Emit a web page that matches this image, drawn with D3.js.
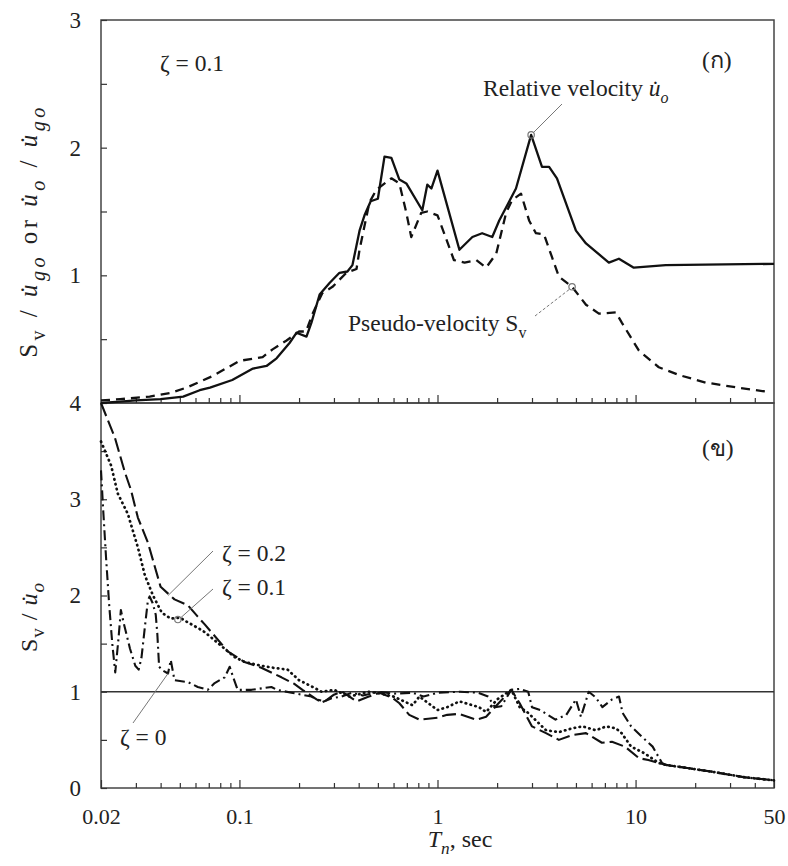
<!DOCTYPE html>
<html>
<head>
<meta charset="utf-8">
<script src="https://cdn.jsdelivr.net/npm/d3@7"></script>
<style>
  body { margin: 0; background: #fff; }
  svg text { font-family: "Liberation Serif", "Times New Roman", Tinos, "DejaVu Serif", serif; fill: #222; }
</style>
</head>
<body>
<div id="chart"></div>
<script>
// ---- data ----
// top panel (zeta = 0.1): relative velocity (solid) and pseudo-velocity (dashed)
var relT = [0.02, 0.025, 0.03, 0.04, 0.052, 0.063, 0.071, 0.092, 0.117, 0.137, 0.154, 0.179, 0.194, 0.218, 0.231, 0.254, 0.285, 0.32, 0.351, 0.372, 0.404, 0.428, 0.46, 0.5, 0.54, 0.585, 0.642, 0.696, 0.838, 0.888, 0.931, 1.0, 1.29, 1.5, 1.68, 1.89, 2.05, 2.49, 2.97, 3.37, 3.66, 4.01, 5.0, 5.62, 7.33, 8.24, 9.8, 14.2, 50];
var relV = [0.0, 0.01, 0.02, 0.03, 0.05, 0.1, 0.12, 0.18, 0.27, 0.29, 0.35, 0.47, 0.55, 0.52, 0.63, 0.85, 0.94, 1.02, 1.03, 1.08, 1.35, 1.47, 1.58, 1.6, 1.93, 1.92, 1.75, 1.72, 1.51, 1.71, 1.68, 1.82, 1.20, 1.30, 1.33, 1.30, 1.43, 1.68, 2.10, 1.85, 1.85, 1.76, 1.35, 1.25, 1.10, 1.13, 1.06, 1.08, 1.09];

var pseT = [0.02, 0.025, 0.0352, 0.045, 0.054, 0.073, 0.1, 0.131, 0.147, 0.173, 0.2, 0.217, 0.234, 0.262, 0.295, 0.347, 0.39, 0.404, 0.453, 0.491, 0.585, 0.642, 0.696, 0.737, 0.828, 0.888, 1.0, 1.11, 1.21, 1.37, 1.57, 1.76, 1.98, 2.22, 2.38, 2.64, 2.9, 3.14, 3.45, 3.79, 4.1, 4.78, 5.62, 6.53, 7.96, 8.52, 10.4, 13.1, 16.5, 22.6, 33.1, 45.3];
var pseV = [0.02, 0.03, 0.05, 0.08, 0.12, 0.21, 0.33, 0.36, 0.42, 0.49, 0.56, 0.56, 0.70, 0.86, 0.91, 1.02, 1.05, 1.20, 1.57, 1.67, 1.76, 1.72, 1.49, 1.30, 1.49, 1.50, 1.47, 1.28, 1.12, 1.10, 1.12, 1.06, 1.17, 1.49, 1.59, 1.64, 1.43, 1.33, 1.32, 1.14, 0.99, 0.91, 0.77, 0.70, 0.71, 0.63, 0.41, 0.28, 0.22, 0.16, 0.12, 0.09];

// bottom panel: Sv / u_o for zeta = 0, 0.1, 0.2
var z0T = [0.02, 0.0205, 0.0212, 0.022, 0.0228, 0.0236, 0.0245, 0.0252, 0.026, 0.028, 0.0298, 0.031, 0.032, 0.0333, 0.0345, 0.0352, 0.0365, 0.0378, 0.0385, 0.0393, 0.041, 0.0436, 0.045, 0.047, 0.055, 0.0616, 0.0692, 0.075, 0.0843, 0.0893, 0.093, 0.098, 0.115, 0.145, 0.155, 0.183, 0.231, 0.26, 0.29, 0.327, 0.37, 0.42, 0.5, 0.6, 0.75, 0.85, 1.0, 1.3, 1.6, 1.8, 1.95, 2.1, 2.36, 2.6, 2.87, 3.0, 3.3, 3.94, 4.47, 5.0, 5.3, 5.8, 6.3, 6.8, 7.6, 8.25, 8.6, 9.5, 10.8, 12.2, 13.6, 14.2, 17.9, 24.2, 35.9, 50];
var z0V = [3.3, 2.9, 2.4, 1.9, 1.5, 1.2, 1.55, 1.85, 1.72, 1.45, 1.27, 1.23, 1.35, 1.67, 1.95, 1.99, 1.92, 1.8, 1.6, 1.26, 1.22, 1.19, 1.33, 1.12, 1.1, 1.05, 1.02, 1.09, 1.15, 1.26, 1.15, 1.02, 1.02, 1.05, 1.02, 0.99, 0.95, 0.89, 0.93, 0.95, 0.99, 0.96, 1.0, 0.98, 0.99, 0.95, 0.99, 1.0, 0.99, 0.95, 0.84, 0.85, 1.02, 1.03, 1.0, 0.84, 0.81, 0.71, 0.76, 0.92, 0.74, 1.0, 0.94, 0.84, 0.92, 0.95, 0.78, 0.64, 0.53, 0.43, 0.26, 0.24, 0.21, 0.17, 0.11, 0.08];

var z1T = [0.02, 0.0225, 0.0243, 0.0273, 0.0307, 0.0333, 0.0366, 0.0406, 0.045, 0.05, 0.055, 0.062, 0.0668, 0.0946, 0.106, 0.129, 0.147, 0.175, 0.2, 0.234, 0.26, 0.3, 0.36, 0.45, 0.52, 0.6, 0.748, 0.81, 1.0, 1.12, 1.29, 1.62, 1.76, 2.0, 2.36, 2.6, 2.87, 3.53, 4.1, 4.78, 5.4, 6.3, 7.1, 7.96, 8.5, 9.5, 11.1, 13.1, 14.2, 17.9, 24.2, 35.9, 50];
var z1V = [3.6, 3.35, 3.06, 2.85, 2.5, 2.21, 2.0, 1.82, 1.76, 1.77, 1.72, 1.66, 1.62, 1.36, 1.31, 1.27, 1.25, 1.23, 1.12, 1.05, 1.0, 1.02, 0.95, 1.0, 0.98, 0.95, 0.86, 0.95, 0.81, 0.84, 0.9, 0.84, 0.79, 0.92, 1.02, 0.84, 0.78, 0.6, 0.58, 0.62, 0.64, 0.6, 0.64, 0.62, 0.57, 0.43, 0.36, 0.26, 0.24, 0.21, 0.17, 0.11, 0.08];

var z2T = [0.02, 0.0235, 0.0264, 0.0283, 0.0307, 0.0345, 0.04, 0.047, 0.0548, 0.0616, 0.0668, 0.0873, 0.106, 0.129, 0.163, 0.19, 0.208, 0.245, 0.27, 0.3, 0.33, 0.39, 0.45, 0.509, 0.59, 0.642, 0.72, 0.81, 1.0, 1.12, 1.29, 1.57, 1.76, 1.89, 2.12, 2.36, 2.6, 3.0, 3.53, 4.1, 4.78, 5.62, 6.76, 7.6, 8.83, 10.4, 11.6, 13.1, 14.2, 17.9, 24.2, 35.9, 50];
var z2V = [4.0, 3.64, 3.28, 3.10, 2.81, 2.55, 2.09, 1.96, 1.90, 1.78, 1.70, 1.42, 1.31, 1.25, 1.15, 1.08, 1.02, 0.92, 0.9, 0.97, 1.0, 0.9, 0.95, 0.99, 0.94, 0.88, 0.76, 0.71, 0.73, 0.76, 0.77, 0.71, 0.74, 0.81, 0.92, 1.02, 0.88, 0.64, 0.57, 0.5, 0.55, 0.57, 0.47, 0.48, 0.43, 0.31, 0.29, 0.26, 0.24, 0.21, 0.17, 0.11, 0.08];

// ticks
var xLabelTicks = [0.02, 0.1, 1, 10, 50];
var xMajorTicks = [0.1, 1, 10];
var xMinorTicks = [0.03, 0.04, 0.05, 0.06, 0.07, 0.08, 0.09, 0.2, 0.3, 0.4, 0.5, 0.6, 0.7, 0.8, 0.9, 2, 3, 4, 5, 6, 7, 8, 9, 20, 30, 40];
var yTopTicks = [0.5, 1, 1.5, 2, 2.5, 3];
var yBotTicks = [0, 0.5, 1, 1.5, 2, 2.5, 3, 3.5, 4];

var left = 101, right = 774, topY = 20, midY = 403, botY = 788;
var fs = 22, fsNote = 23.5, fsTitle = 24;
var serif = '"Liberation Serif", "Times New Roman", Tinos, "DejaVu Serif", serif';

var svg = d3.select("#chart").append("svg")
    .attr("width", 788)
    .attr("height", 866)
    .attr("font-family", serif);

var x = d3.scaleLog().domain([0.02, 50]).range([left, right]);
var yTop = d3.scaleLinear().domain([0, 3]).range([midY, topY]);
var yBot = d3.scaleLinear().domain([0, 4]).range([botY, midY]);

function pts(T, V) {
    return T.map(function(t, i) { return {t: t, v: V[i]}; });
}

// text with sub-scripts / italics
function rich(sel, parts, size, subScale) {
    var shift = 0;
    subScale = subScale || 0.68;
    sel.attr("font-family", serif);
    parts.forEach(function(p) {
        var ts = sel.append("tspan").text(p.t);
        var want = p.sub ? size * 0.3 : 0;
        if (want !== shift) { ts.attr("dy", want - shift); shift = want; }
        ts.attr("font-size", p.sub ? size * subScale : size);
        if (p.it) ts.attr("font-style", "italic");
    });
}

// ---- frames ----
svg.append("rect")
    .attr("x", left).attr("y", topY)
    .attr("width", right - left).attr("height", midY - topY)
    .attr("fill", "none").attr("stroke", "#444").attr("stroke-width", 1.5);
svg.append("rect")
    .attr("x", left).attr("y", midY)
    .attr("width", right - left).attr("height", botY - midY)
    .attr("fill", "none").attr("stroke", "#444").attr("stroke-width", 1.5);

// ---- axes ----
function xAxes(yPos, labels) {
    svg.append("g")
        .attr("transform", "translate(0," + yPos + ")")
        .call(d3.axisBottom(x).tickValues(xMinorTicks).tickSize(-5).tickSizeOuter(0).tickFormat(""))
        .call(function(g) { g.select(".domain").remove(); });
    var g = svg.append("g")
        .attr("transform", "translate(0," + yPos + ")")
        .call(d3.axisBottom(x).tickValues(labels ? xLabelTicks : xMajorTicks)
            .tickSize(-8).tickSizeOuter(0).tickPadding(20)
            .tickFormat(labels ? function(d) { return String(d); } : ""));
    g.select(".domain").remove();
    g.selectAll("text").attr("font-size", fs).attr("font-family", serif).attr("fill", "#222");
    svg.selectAll(".tick line").attr("stroke", "#333").attr("stroke-width", 1.2);
}
xAxes(midY, false);
xAxes(botY, true);

function yAxis(scale, vals, skipZero) {
    var g = svg.append("g")
        .attr("transform", "translate(" + left + ",0)")
        .call(d3.axisLeft(scale).tickValues(vals).tickSize(-6).tickSizeOuter(0).tickPadding(20)
            .tickFormat(function(d) {
                if (d % 1 !== 0) return "";
                if (skipZero && d === 0) return "";
                return String(d);
            }));
    g.select(".domain").remove();
    g.selectAll("line").attr("stroke", "#333").attr("stroke-width", 1.2);
    g.selectAll("text").attr("font-size", fs + 1).attr("font-family", serif).attr("fill", "#222");
}
yAxis(yTop, yTopTicks, true);
yAxis(yBot, yBotTicks, false);

// reference line at 1 in the lower panel
svg.append("line")
    .attr("x1", left).attr("x2", right)
    .attr("y1", yBot(1)).attr("y2", yBot(1))
    .attr("stroke", "#333").attr("stroke-width", 1.5);

// ---- curves ----
var lineTop = d3.line().x(function(d) { return x(d.t); }).y(function(d) { return yTop(d.v); });
var lineBot = d3.line().x(function(d) { return x(d.t); }).y(function(d) { return yBot(d.v); });

function curve(data, gen, dash, width, cap) {
    svg.append("path")
        .datum(data)
        .attr("fill", "none")
        .attr("stroke", "#111")
        .attr("stroke-width", width)
        .attr("stroke-linejoin", "round")
        .attr("stroke-linecap", cap || "butt")
        .attr("stroke-dasharray", dash)
        .attr("d", gen);
}

curve(pts(relT, relV), lineTop, null, 2.3);
curve(pts(pseT, pseV), lineTop, "9,6", 2.3);

curve(pts(z2T, z2V), lineBot, "14,5", 2.1);
curve(pts(z1T, z1V), lineBot, "0.5,4.5", 2.7, "round");
curve(pts(z0T, z0V), lineBot, "10,4,2,4", 2.1);

// ---- annotations ----
function leader(x1, y1, x2, y2, dash) {
    svg.append("line")
        .attr("x1", x1).attr("y1", y1).attr("x2", x2).attr("y2", y2)
        .attr("stroke", "#777").attr("stroke-width", 1)
        .attr("stroke-dasharray", dash || null);
}
function marker(cx, cy) {
    svg.append("circle").attr("cx", cx).attr("cy", cy).attr("r", 3.2)
        .attr("fill", "none").attr("stroke", "#777").attr("stroke-width", 1.2);
}
function label(xp, yp, s) {
    svg.append("text").attr("x", xp).attr("y", yp)
        .attr("font-size", fsNote).attr("font-family", serif).text(s);
}

// top panel
label(160, 71, "ζ = 0.1");
label(702, 68, "(ก)");

var relTxt = svg.append("text").attr("x", 483).attr("y", 96);
rich(relTxt, [{t: "Relative velocity "}, {t: "u\u0307", it: true}, {t: "o", sub: true, it: true}], fsNote);
marker(x(2.97), yTop(2.10));
leader(x(2.97) + 2, yTop(2.10) - 2, 562, 104);

var pseTxt = svg.append("text").attr("x", 348).attr("y", 331);
rich(pseTxt, [{t: "Pseudo-velocity S"}, {t: "v", sub: true}], fsNote);
marker(x(4.78), yTop(0.91));
leader(535, 316, x(4.78) - 2, yTop(0.91) + 2, "3,2");

// bottom panel
label(702, 456, "(ข)");
label(222, 561, "ζ = 0.2");
label(222, 595, "ζ = 0.1");
label(120, 745, "ζ = 0");
leader(213, 551, x(0.0436), yBot(2.0));
marker(x(0.0489), yBot(1.75));
leader(213, 589, x(0.0489) + 3, yBot(1.75) - 2);
leader(133, 723, x(0.0436), yBot(1.19));

// axis titles
var yt1 = svg.append("text")
    .attr("transform", "translate(37,231) rotate(-90)")
    .attr("text-anchor", "middle")
    .attr("letter-spacing", 3.5);
rich(yt1, [{t: "S"}, {t: "v", sub: true}, {t: " / "}, {t: "u\u0307", it: true}, {t: "go", sub: true, it: true},
           {t: " or "}, {t: "u\u0307", it: true}, {t: "o", sub: true, it: true}, {t: " / "},
           {t: "u\u0307", it: true}, {t: "go", sub: true, it: true}], 25, 0.8);

var yt2 = svg.append("text")
    .attr("transform", "translate(37,617) rotate(-90)")
    .attr("text-anchor", "middle")
    .attr("letter-spacing", 1);
rich(yt2, [{t: "S"}, {t: "v", sub: true}, {t: " / "}, {t: "u\u0307", it: true}, {t: "o", sub: true, it: true}], fsTitle, 0.8);

var xt = svg.append("text")
    .attr("x", 460).attr("y", 847)
    .attr("text-anchor", "middle");
rich(xt, [{t: "T", it: true}, {t: "n", sub: true, it: true}, {t: ", sec"}], fsTitle, 0.72);
</script>
</body>
</html>
